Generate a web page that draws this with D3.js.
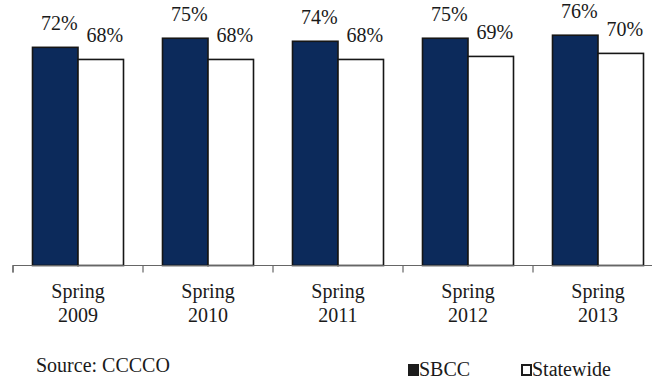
<!DOCTYPE html>
<html>
<head>
<meta charset="utf-8">
<script src="https://cdn.jsdelivr.net/npm/d3@7"></script>
<style>
  html, body { margin: 0; padding: 0; background: #fff; }
  svg { display: block; }
</style>
</head>
<body>
<svg id="chart" width="652" height="381"></svg>
<script>
// Completion rates by spring term, SBCC vs. statewide
const terms = ["Spring 2009", "Spring 2010", "Spring 2011", "Spring 2012", "Spring 2013"];
const seriesNames = ["SBCC", "Statewide"];
const sbcc = [72, 75, 74, 75, 76];
const statewide = [68, 68, 68, 69, 70];
const sourceNote = "Source: CCCCO";

const colors = { SBCC: "#0c2a5b", Statewide: "#ffffff" };
const FONT = "'Liberation Serif', 'Times New Roman', Tinos, 'DejaVu Serif', serif";
const INK = "#1a1a1a";

const svg = d3.select("#chart")
  .attr("font-family", FONT)
  .style("font-family", FONT);
const baseY = 265.5;

const x = d3.scaleBand().domain(terms).range([13, 663]).paddingInner(0).paddingOuter(0);
const pairW = 91;
const xs = d3.scaleBand().domain(seriesNames)
  .range([(x.bandwidth() - pairW) / 2, (x.bandwidth() + pairW) / 2]);
const y = d3.scaleLinear().domain([0, 80]).range([baseY, baseY - 80 * 3.03]);

const rows = terms.map((t, i) => ({ term: t, values: [
  { key: "SBCC", v: sbcc[i] },
  { key: "Statewide", v: statewide[i] }
]}));

// bars
const groups = svg.append("g").selectAll("g").data(rows).join("g")
  .attr("transform", d => `translate(${x(d.term)},0)`);

groups.selectAll("rect").data(d => d.values).join("rect")
  .attr("x", d => xs(d.key))
  .attr("y", d => y(d.v))
  .attr("width", xs.bandwidth())
  .attr("height", d => baseY - y(d.v))
  .attr("fill", d => colors[d.key])
  .attr("stroke", "#161616")
  .attr("stroke-width", 1.6);

// value labels
groups.selectAll("text.val").data(d => d.values).join("text")
  .attr("class", "val")
  .attr("x", d => xs(d.key) + xs.bandwidth() / 2 + 4)
  .attr("y", d => y(d.v) - 17)
  .attr("text-anchor", "middle")
  .attr("font-size", 20)
  .attr("fill", INK)
  .text(d => d.v + "%");

// category axis
const axis = d3.axisBottom(x).tickSize(7).tickFormat("");
const axG = svg.append("g").attr("transform", `translate(0,${baseY})`).call(axis);
axG.attr("font-family", null);
axG.select(".domain").attr("stroke", "#666").attr("stroke-width", 1.2)
  .attr("d", `M13,7V0H652`);
axG.selectAll(".tick").remove();
axG.selectAll("line.tk").data(terms).join("line")
  .attr("class", "tk")
  .attr("x1", d => x(d)).attr("x2", d => x(d))
  .attr("y1", 0).attr("y2", 7)
  .attr("stroke", "#666").attr("stroke-width", 1.2);

// two-line category labels
const cat = svg.append("g").selectAll("text").data(terms).join("text")
  .attr("text-anchor", "middle")
  .attr("font-size", 20)
  .attr("fill", INK)
  .attr("x", d => x(d) + x.bandwidth() / 2);
cat.append("tspan").attr("x", d => x(d) + x.bandwidth() / 2).attr("y", 298)
  .text(d => d.split(" ")[0]);
cat.append("tspan").attr("x", d => x(d) + x.bandwidth() / 2).attr("y", 322)
  .text(d => d.split(" ")[1]);

// source note
svg.append("text").attr("x", 36).attr("y", 372).attr("font-size", 20)
  .attr("fill", INK).text(sourceNote);

// legend
const legendX = [408, 521];
const lg = svg.append("g").selectAll("g").data(seriesNames).join("g")
  .attr("transform", (d, i) => `translate(${legendX[i]},376)`);
lg.append("rect")
  .attr("x", 1).attr("y", -11).attr("width", 9).attr("height", 10)
  .attr("fill", d => d === "SBCC" ? "#1c1c1c" : "#fff")
  .attr("stroke", "#1c1c1c").attr("stroke-width", 2);
lg.append("text").attr("x", 11).attr("y", 0).attr("font-size", 20)
  .attr("fill", INK).text(d => d);
</script>
</body>
</html>
